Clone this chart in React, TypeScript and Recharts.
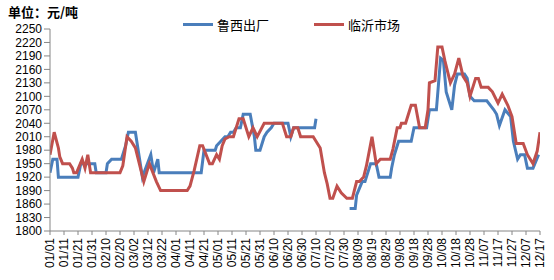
import React from "react";
import { LineChart, Line, XAxis, YAxis } from "recharts";

const xLabels = [
  "01/01", "01/11", "01/21", "01/31", "02/10", "02/20", "03/02", "03/12", "03/22",
  "04/01", "04/11", "04/21", "05/01", "05/11", "05/21", "05/31", "06/10", "06/20",
  "06/30", "07/10", "07/20", "07/30", "08/09", "08/19", "08/29", "09/08", "09/18",
  "09/28", "10/08", "10/18", "10/28", "11/07", "11/17", "11/27", "12/07", "12/17",
];

const yTicks = [1800, 1830, 1860, 1890, 1920, 1950, 1980, 2010, 2040, 2070, 2100, 2130, 2160, 2190, 2220, 2250];

// 鲁西出厂 (day index from 01/01, price)
const luxiDays = [
  0, 2, 5, 6, 20, 22, 32, 33, 40, 41, 44, 51, 54, 56, 61, 66, 72, 74, 77, 78,
  108, 110, 118, 119, 122, 125, 127, 129, 131, 133, 136, 138, 143, 146, 147, 150,
  153, 155, 158, 160, 170, 172, 174, 189, 190, 200,
  214, 218, 219, 223, 225, 229, 233, 235, 243, 244, 246, 249, 258, 260, 269, 271,
  276, 279, 281, 283, 287, 289, 291, 296, 298, 300, 303, 312, 317, 319, 321, 325,
  329, 331, 334, 336, 339, 341, 345, 349,
];
const luxiValues: (number | null)[] = [
  1930, 1960, 1960, 1920, 1920, 1950, 1950, 1930, 1930, 1950, 1960, 1960, 1990, 2020, 2020, 1920, 1970, 1930, 1960, 1930,
  1930, 1980, 1980, 1990, 2000, 2010, 2010, 2020, 2020, 2030, 2030, 2060, 2060, 2010, 1980, 1980,
  2010, 2020, 2030, 2040, 2040, 2010, 2030, 2030, 2050, null,
  1850, 1850, 1880, 1910, 1910, 1950, 1950, 1920, 1920, 1940, 1970, 2000, 2000, 2030, 2030, 2070,
  2070, 2185, 2180, 2110, 2070, 2125, 2150, 2150, 2140, 2100, 2090, 2090, 2070, 2060, 2035, 2070,
  2055, 2000, 1960, 1970, 1970, 1940, 1940, 1970,
];

// 临沂市场
const linyiDays = [
  0, 3, 6, 7, 9, 14, 16, 17, 19, 23, 25, 27, 29, 50, 52, 55, 58, 61, 67, 71, 76, 79,
  98, 100, 103, 107, 109, 114, 116, 119, 121, 123, 125, 128, 131, 135, 138, 142, 145,
  148, 153, 166, 169, 172, 174, 177, 179, 188, 190, 193, 196, 198, 200, 202, 205, 208,
  212, 216, 219, 221, 224, 226, 230, 233, 236, 243, 245, 248, 250, 251, 254, 255, 258,
  261, 264, 268, 270, 271, 275, 277, 280, 282, 286, 289, 292, 295, 298, 300, 304, 306,
  308, 313, 316, 320, 323, 327, 330, 333, 338, 341, 345, 348, 350,
];
const linyiValues = [
  1970, 2020, 1985, 1965, 1950, 1950, 1940, 1930, 1930, 1960, 1940, 1970, 1930, 1930, 1945, 2010, 2000, 1985, 1910, 1950, 1910, 1890,
  1890, 1900, 1935, 1990, 1990, 1950, 1950, 1970, 1960, 1990, 2005, 2010, 2010, 2050, 2050, 2010, 2030,
  2010, 2040, 2040, 2010, 2010, 2030, 2030, 2010, 2010, 2000, 1985, 1930, 1905, 1873, 1873, 1900, 1885,
  1873, 1873, 1910, 1910, 1920, 1945, 2010, 1950, 1960, 1960, 1983, 2030, 2030, 2040, 2040, 2050, 2080,
  2080, 2030, 2030, 2070, 2130, 2135, 2210, 2210, 2180, 2130, 2150, 2185, 2145, 2130, 2100, 2140, 2140,
  2120, 2120, 2110, 2085, 2105, 2080, 2055, 1995, 1995, 1970, 1950, 1978, 2020,
];

const luxiData = luxiDays.map((d, i) => ({ d, v: luxiValues[i] }));
const linyiData = linyiDays.map((d, i) => ({ d, v: linyiValues[i] }));
const xTicks = xLabels.map((_, i) => i * 10);

const BLUE = "#4a7ebb";
const RED = "#c0504d";
const AXIS = "#868686";
const NUM_FONT = "'Liberation Sans', Arial, sans-serif";
const CJK_FONT = "'Noto Sans CJK SC', sans-serif";

const XTick = (props: any) => {
  const { x, y, payload } = props;
  const label = xLabels[Math.round(payload.value / 10)] ?? "";
  const ty = y + 1;
  return (
    <text
      x={x}
      y={ty}
      transform={`rotate(-90 ${x} ${ty})`}
      textAnchor="end"
      dy="0.35em"
      fontSize={12}
      fontFamily={NUM_FONT}
      fill="#000"
    >
      {label}
    </text>
  );
};

export default function App() {
  return (
    <div style={{ position: "absolute", left: 0, top: 0, width: 554, height: 280, background: "#fff" }}>
      <div
        style={{
          position: "absolute",
          left: 8,
          top: 5,
          fontFamily: CJK_FONT,
          fontWeight: "bold",
          fontSize: 13,
          lineHeight: "14px",
          whiteSpace: "nowrap",
        }}
      >
        单位：元/吨
      </div>
      <div style={{ position: "absolute", left: 183, top: 15, height: 18, display: "flex", alignItems: "center", fontFamily: CJK_FONT, fontSize: 13 }}>
        <span style={{ display: "inline-block", width: 30, height: 3, background: BLUE, marginRight: 4 }} />
        <span>鲁西出厂</span>
      </div>
      <div style={{ position: "absolute", left: 314, top: 15, height: 18, display: "flex", alignItems: "center", fontFamily: CJK_FONT, fontSize: 13 }}>
        <span style={{ display: "inline-block", width: 30, height: 3, background: RED, marginRight: 4 }} />
        <span>临沂市场</span>
      </div>
      <div style={{ position: "absolute", left: 0, top: 0 }}>
        <LineChart width={554} height={280} margin={{ top: 29, right: 14, bottom: 0, left: 0 }}>
          <XAxis
            type="number"
            dataKey="d"
            domain={[0, 350]}
            ticks={xTicks}
            interval={0}
            allowDataOverflow
            height={49}
            stroke={AXIS}
            tickSize={4}
            tickMargin={2}
            tick={<XTick />}
          />
          <YAxis
            type="number"
            domain={[1800, 2250]}
            ticks={yTicks}
            interval={0}
            width={50}
            stroke={AXIS}
            tickSize={6}
            tickMargin={2}
            tick={{ fontSize: 12, fill: "#000", fontFamily: NUM_FONT }}
          />
          <Line
            data={luxiData}
            dataKey="v"
            type="linear"
            stroke={BLUE}
            strokeWidth={3}
            dot={false}
            activeDot={false}
            connectNulls={false}
            isAnimationActive={false}
          />
          <Line
            data={linyiData}
            dataKey="v"
            type="linear"
            stroke={RED}
            strokeWidth={3}
            dot={false}
            activeDot={false}
            isAnimationActive={false}
          />
        </LineChart>
      </div>
    </div>
  );
}
